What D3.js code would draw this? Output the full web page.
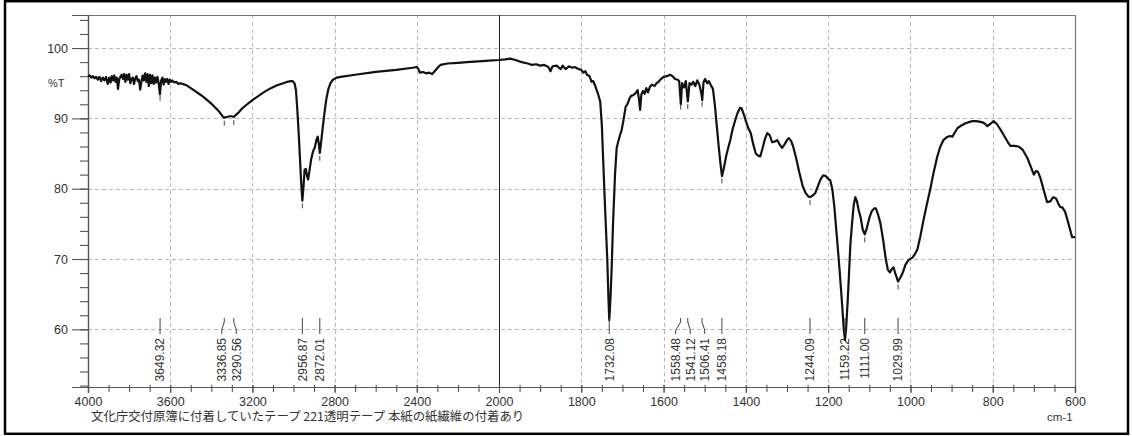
<!DOCTYPE html>
<html>
<head>
<meta charset="utf-8">
<script src="https://cdn.jsdelivr.net/npm/d3@7"></script>
<style>
  html, body { margin: 0; padding: 0; background: #fff; }
  svg { display: block; }
  text { font-family: "Liberation Sans", Arial, sans-serif; fill: #333; }
  .jp { font-family: "Noto Sans CJK JP", sans-serif; }
</style>
</head>
<body>
<svg id="chart" width="1132" height="436"></svg>
<script>
// IR spectrum: wavenumber (cm-1) and transmittance (%T)
const wavenumbers = [
  4000,3992,3984,3976,3968,3960,3952,3944,3936,3928,3920,3912,3904,3896,3890,3884,3878,3872,3866,3860,
  3854,3848,3842,3836,3830,3824,3818,3812,3806,3800,3794,3788,3782,3776,3770,3764,3758,3752,3746,3740,
  3734,3728,3722,3716,3710,3704,3698,3692,3686,3680,3674,3668,3662,3656,3650,3644,3638,3632,3626,3620,
  3614,3608,3602,3596,3590,3580,3570,3560,3550,3540,3530,3520,3500,3480,3460,3440,3420,3400,3380,3360,
  3345,3337,3325,3310,3300,3291,3280,3265,3250,3230,3200,3170,3140,3110,3080,3050,3030,3015,3005,2995,
  2988,2982,2975,2968,2962,2957,2952,2946,2940,2934,2929,2922,2914,2905,2896,2888,2882,2877,2872,2866,
  2858,2850,2840,2830,2820,2808,2790,2770,2700,2600,2500,2420,2400,2392,2385,2370,2355,2340,2325,2310,
  2295,2285,2250,2200,2156,2100,2050,2000,1985,1973,1960,1945,1930,1920,1910,1900,1890,1880,1875,1870,
  1860,1850,1845,1838,1830,1822,1815,1810,1800,1795,1790,1786,1780,1775,1771,1766,1760,1754,1750,1747,
  1742,1737,1734,1732,1729,1726,1723,1718,1714,1711,1706,1702,1697,1692,1688,1683,1679,1674,1668,1663,
  1660,1657,1654,1650,1646,1642,1638,1633,1628,1622,1617,1612,1608,1600,1592,1584,1578,1572,1566,1562,
  1558,1555,1550,1546,1541,1537,1532,1528,1523,1518,1513,1508,1506,1503,1499,1494,1490,1485,1480,1475,
  1470,1466,1462,1458,1454,1448,1443,1438,1432,1426,1420,1414,1410,1404,1400,1394,1388,1382,1376,1370,
  1365,1360,1354,1348,1342,1336,1330,1324,1318,1312,1306,1300,1296,1290,1285,1278,1270,1262,1255,1248,
  1244,1238,1231,1224,1218,1212,1206,1200,1195,1190,1185,1180,1175,1171,1166,1162,1159,1156,1153,1150,
  1146,1142,1138,1134,1130,1126,1121,1116,1111,1106,1100,1094,1088,1084,1079,1073,1066,1060,1055,1050,
  1045,1041,1036,1030,1025,1019,1012,1004,995,988,983,976,968,960,952,944,935,928,920,912,
  904,898,892,886,876,866,856,849,840,830,823,818,813,806,798,790,781,772,763,757,
  748,737,728,722,716,708,700,695,690,684,676,668,660,653,646,640,636,630,624,618,
  612,607,600
];
const transmittance = [
  96.0,96.1,95.8,96.0,95.7,95.9,95.5,95.9,95.3,95.8,95.4,95.9,94.9,95.8,95.1,96.0,95.4,96.1,95.2,95.8,
  94.2,95.6,95.9,96.2,95.6,96.3,95.2,96.2,95.5,96.3,95.0,95.6,95.8,94.9,95.7,96.0,95.3,95.5,94.1,95.2,
  96.1,95.4,96.4,95.2,96.3,94.6,96.2,95.0,96.1,94.9,95.8,95.1,95.9,95.0,93.4,95.4,95.8,94.8,95.6,95.2,
  95.6,94.9,95.5,95.2,95.4,95.1,95.2,94.9,95.0,94.9,94.8,94.7,94.3,93.9,93.5,93.1,92.6,92.1,91.5,90.9,
  90.3,90.1,90.2,90.3,90.3,90.2,90.5,90.9,91.4,91.9,92.6,93.2,93.8,94.3,94.7,95.0,95.2,95.3,95.3,95.0,
  94.0,91.5,88.0,84.0,80.5,78.3,80.0,82.7,82.8,81.8,81.3,82.6,84.2,85.3,85.9,87.0,87.4,86.4,85.1,86.5,
  88.6,90.6,92.8,94.2,95.0,95.5,95.8,95.9,96.2,96.6,96.9,97.2,97.3,97.0,96.5,96.6,96.4,96.5,96.3,96.8,
  97.3,97.6,97.8,97.9,98.0,98.1,98.2,98.3,98.4,98.5,98.3,98.0,97.8,97.6,97.7,97.5,97.6,97.3,96.7,97.4,
  97.5,97.0,97.5,97.0,97.4,97.2,97.3,97.1,96.9,96.5,96.7,96.2,96.0,95.2,95.3,94.6,93.6,92.4,89.0,84.4,
  77.0,70.2,64.5,61.3,64.5,69.0,74.8,82.0,85.8,86.5,87.6,88.3,89.9,91.7,92.0,92.8,93.2,93.3,93.6,94.0,
  92.8,91.2,93.4,93.9,93.5,94.3,93.7,94.5,94.8,94.6,95.0,95.2,95.5,95.9,96.0,96.2,96.0,95.6,95.5,95.3,
  92.0,95.0,94.4,95.3,92.4,95.0,94.8,95.2,94.6,95.4,94.8,93.5,92.6,95.1,95.6,95.0,95.3,94.7,94.2,91.7,
  88.5,86.0,83.7,81.8,82.8,84.6,85.8,86.9,88.5,89.7,90.8,91.5,91.4,90.4,89.6,88.6,87.9,86.3,85.0,84.7,
  84.6,85.6,87.0,87.9,87.6,86.6,86.7,86.9,86.3,85.8,86.3,86.9,87.2,86.8,86.0,84.4,82.3,80.4,79.4,78.9,
  78.8,79.0,79.4,80.5,81.4,81.9,81.8,81.4,81.2,80.0,77.5,74.0,70.5,67.5,63.5,60.0,58.5,60.5,63.5,67.0,
  72.0,75.0,77.6,78.8,78.2,77.0,75.9,74.2,73.5,74.4,75.8,76.8,77.2,77.2,76.4,75.1,72.6,70.0,68.5,68.1,
  68.6,68.8,67.8,66.8,67.3,68.0,69.2,69.9,70.2,70.8,71.4,73.2,75.6,77.8,79.9,82.2,84.5,85.9,86.9,87.3,
  87.5,87.4,88.0,88.6,89.0,89.3,89.5,89.6,89.6,89.5,89.4,89.2,88.9,89.2,89.6,89.2,88.4,87.5,86.6,86.1,
  86.1,86.0,85.6,85.0,84.4,83.2,82.0,82.5,82.4,81.5,79.8,78.1,78.2,78.8,78.6,77.8,77.4,77.3,76.7,75.5,
  74.2,73.1,73.1
];

// Picked peaks (cm-1)
const peakPositions = [3649.32, 3336.85, 3290.56, 2956.87, 2872.01, 1732.08, 1558.48, 1541.12,
                       1506.41, 1458.18, 1244.09, 1159.22, 1111.00, 1029.99];

// Axis labels
const xTickLabels = [4000, 3600, 3200, 2800, 2400, 2000, 1800, 1600, 1400, 1200, 1000, 800, 600];
const yTickLabels = [60, 70, 80, 90, 100];
const caption = "文化庁交付原簿に付着していたテープ 221透明テープ 本紙の紙繊維の付着あり";
const xUnit = "cm-1";
const yUnit = "%T";

const svg = d3.select("#chart");
const W = 1132, H = 436;
const plotLeft = 88, plotTop = 15, plotRight = 1075, plotBottom = 387;

// Wavenumber axis is expanded 2x below 2000 cm-1
const x = d3.scaleLinear().domain([4000, 2000, 600]).range([plotLeft, 499, plotRight]);
const y = d3.scaleLinear().domain([51.8, 104.7]).range([plotBottom, plotTop]);

// Outer frame
svg.append("rect").attr("x", 5).attr("y", 1.2).attr("width", W - 9).attr("height", H - 3.4)
  .attr("fill", "none").attr("stroke", "#000").attr("stroke-width", 2.5);

// Dashed grid
const grid = svg.append("g").attr("stroke", "#b8b8b8").attr("stroke-width", 1)
  .attr("stroke-dasharray", "4,3").attr("fill", "none");
xTickLabels.filter(v => v !== 4000 && v !== 600 && v !== 2000).forEach(v => {
  grid.append("line").attr("x1", Math.round(x(v)) + 0.5).attr("x2", Math.round(x(v)) + 0.5)
    .attr("y1", plotTop).attr("y2", plotBottom);
});
yTickLabels.forEach(v => {
  grid.append("line").attr("x1", plotLeft).attr("x2", plotRight)
    .attr("y1", Math.round(y(v)) + 0.5).attr("y2", Math.round(y(v)) + 0.5);
});

// Plot box (top and right)
svg.append("path")
  .attr("d", `M${plotLeft},${plotTop + 0.5}H${plotRight + 0.5}V${plotBottom}`)
  .attr("fill", "none").attr("stroke", "#777").attr("stroke-width", 1.2);

// Scale-change marker at 2000 cm-1
svg.append("line").attr("x1", Math.round(x(2000)) + 0.5).attr("x2", Math.round(x(2000)) + 0.5)
  .attr("y1", plotTop).attr("y2", plotBottom).attr("stroke", "#222").attr("stroke-width", 1);

// Y axis: major and minor ticks
const yMinor = d3.range(52, 105, 2);
const yAxisMinor = d3.axisLeft(y).tickValues(yMinor).tickSize(8).tickFormat("");
const yAxisMajor = d3.axisLeft(y).tickValues(yTickLabels).tickSize(16).tickPadding(4)
  .tickFormat(d3.format("d"));
const gyMinor = svg.append("g").attr("transform", `translate(${plotLeft},0)`).call(yAxisMinor);
const gyMajor = svg.append("g").attr("transform", `translate(${plotLeft},0)`).call(yAxisMajor);
[gyMinor, gyMajor].forEach(g => {
  g.select(".domain").attr("stroke", "#555").attr("stroke-width", 1.2);
  g.selectAll(".tick line").attr("stroke", "#555").attr("stroke-width", 1.1);
});
gyMajor.selectAll(".tick text").attr("font-size", 12.5).attr("fill", "#333")
  .style("font-family", "'Liberation Sans', Arial, sans-serif");
svg.append("text").attr("x", 48).attr("y", 87).attr("font-size", 11).text(yUnit);

// X axis: ticks every 100 cm-1 above 2000, every 50 cm-1 below
const xMinor = d3.range(4000, 2000, -100).concat(d3.range(2000, 599, -50));
const xAxisMinor = d3.axisBottom(x).tickValues(xMinor).tickSize(5).tickFormat("");
const xAxisMajor = d3.axisBottom(x).tickValues(xTickLabels).tickSize(6).tickPadding(4)
  .tickFormat(d3.format("d"));
const gxMinor = svg.append("g").attr("transform", `translate(0,${plotBottom})`).call(xAxisMinor);
const gxMajor = svg.append("g").attr("transform", `translate(0,${plotBottom})`).call(xAxisMajor);
[gxMinor, gxMajor].forEach(g => {
  g.select(".domain").attr("stroke", "#555").attr("stroke-width", 1.2);
  g.selectAll(".tick line").attr("stroke", "#555").attr("stroke-width", 1.1).attr("y1", -2);
});
gxMajor.selectAll(".tick text").attr("font-size", 12.5).attr("fill", "#333")
  .style("font-family", "'Liberation Sans', Arial, sans-serif");

svg.append("text").attr("class", "jp").attr("x", 91).attr("y", 421)
  .attr("font-size", 12.4).text(caption);
svg.append("text").attr("x", 1047).attr("y", 421).attr("font-size", 11.5).text(xUnit);

// Spectrum trace
const points = wavenumbers.map((w, i) => [w, transmittance[i]]);
const line = d3.line().x(d => x(d[0])).y(d => y(d[1])).curve(d3.curveLinear);
svg.append("path").datum(points).attr("d", line)
  .attr("fill", "none").attr("stroke", "#111").attr("stroke-width", 2.2)
  .attr("stroke-linejoin", "round");

// Transmittance at a given wavenumber
function tAt(w) {
  for (let i = 1; i < wavenumbers.length; i++) {
    if (wavenumbers[i] <= w) {
      const w0 = wavenumbers[i - 1], w1 = wavenumbers[i];
      const t = (w0 - w) / (w0 - w1);
      return transmittance[i - 1] + t * (transmittance[i] - transmittance[i - 1]);
    }
  }
  return transmittance[transmittance.length - 1];
}

// Peak markers below the trace
const leaderTop = 318;
peakPositions.forEach(p => {
  const yy = y(tAt(p));
  if (yy + 8 < leaderTop) {
    svg.append("line").attr("x1", x(p)).attr("x2", x(p))
      .attr("y1", yy + 3).attr("y2", yy + 8)
      .attr("stroke", "#444").attr("stroke-width", 1);
  }
});

// Peak labels, spread apart where they crowd
const gap = 14.5;
const px = peakPositions.map(p => x(p));
const lx = px.slice();
for (let it = 0; it < 200; it++) {
  for (let i = 1; i < lx.length; i++) {
    const d = lx[i] - lx[i - 1];
    if (d < gap) {
      const s = (gap - d) / 2;
      lx[i - 1] -= s; lx[i] += s;
    }
  }
}
const labels = svg.append("g");
peakPositions.forEach((p, i) => {
  labels.append("path")
    .attr("d", `M${px[i]},${leaderTop}V${leaderTop + 4}L${lx[i]},${leaderTop + 12}V${leaderTop + 16}`)
    .attr("fill", "none").attr("stroke", "#444").attr("stroke-width", 1);
  labels.append("text")
    .attr("transform", `translate(${lx[i]},${leaderTop + 20}) rotate(-90)`)
    .attr("text-anchor", "end").attr("dy", "0.36em")
    .attr("font-size", 12).text(p.toFixed(2));
});
</script>
</body>
</html>
